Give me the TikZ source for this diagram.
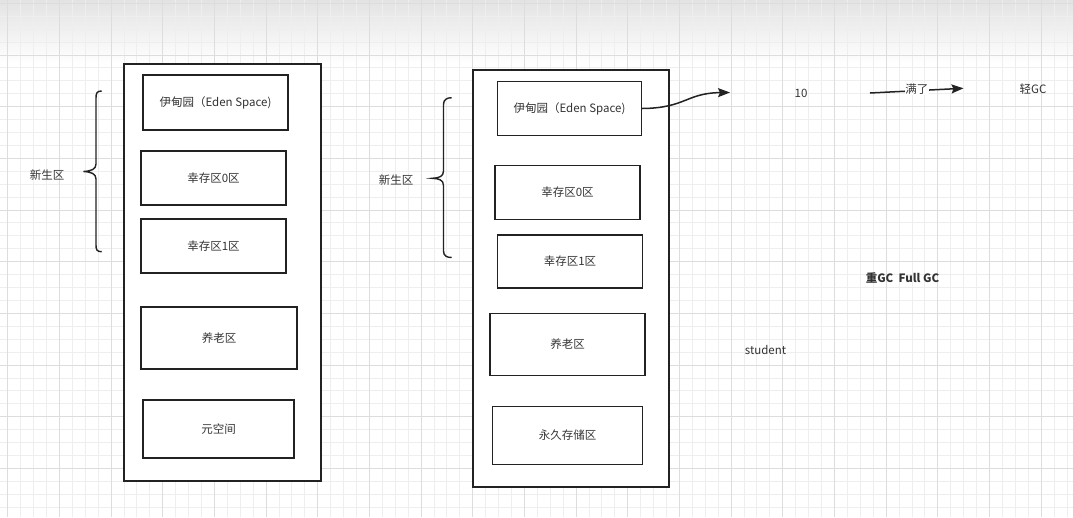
\documentclass[tikz,border=0pt]{standalone}
\usepackage{fontspec}
\setmainfont{Noto Sans CJK SC}
\usetikzlibrary{arrows.meta}
\definecolor{ink}{HTML}{222222}
\definecolor{txt}{HTML}{333333}
\definecolor{gminor}{HTML}{EEEEEE}
\definecolor{gmajor}{HTML}{DDDDDD}
\begin{document}
\begin{tikzpicture}[x=1pt,y=-1pt,
  outerbox/.style={draw=ink,line width=1.4pt,fill=white,inner sep=0pt},
  membox/.style={draw=ink,line width=1.4pt,fill=white,inner sep=0pt,text=txt,font=\fontsize{11.5}{14}\selectfont},
  lbl/.style={text=txt,inner sep=1pt,font=\fontsize{11.5}{14}\selectfont},
  bracepath/.style={draw=ink,line width=1.4pt},
  conn/.style={draw=ink,line width=1.5pt,-{Stealth[length=12pt,width=9pt,inset=2pt]}},
]
\useasboundingbox (0,0) rectangle (1073,517);
\fill[white] (0,0) rectangle (1073,517);
\shade[top color=black!11,bottom color=white] (0,0) rectangle (1073,64);
% grid
\foreach \i in {0,...,83} {\draw[gminor,line width=0.8pt] ({7.7+\i*12.917},0) -- ({7.7+\i*12.917},517);}
\foreach \i in {0,...,40} {\draw[gminor,line width=0.8pt] (0,{3.3+\i*12.917}) -- (1073,{3.3+\i*12.917});}
\foreach \i in {0,...,20} {\draw[gmajor,line width=0.8pt] ({7.7+\i*51.67},0) -- ({7.7+\i*51.67},517);}
\foreach \i in {0,...,10} {\draw[gmajor,line width=0.8pt] (0,{3.3+\i*51.67}) -- (1073,{3.3+\i*51.67});}

% left column
\node[outerbox,minimum width=197,minimum height=417] (outerL) at (222.5,272.5) {};
\node[membox,minimum width=145,minimum height=55] (edenL) at (215.5,102.5) {伊甸园（Eden Space)};
\node[membox,minimum width=145,minimum height=54] (s0L) at (213.5,178) {幸存区0区};
\node[membox,minimum width=145,minimum height=54] (s1L) at (213.5,246) {幸存区1区};
\node[membox,minimum width=156,minimum height=62] (oldL) at (219,338) {养老区};
\node[membox,minimum width=151,minimum height=58] (metaL) at (218.5,429) {元空间};
\draw[bracepath] (101.7,91) .. controls (97,91) and (96,93) .. (96,98) -- (96,164)
  .. controls (96,169.5) and (91,171) .. (83.5,171.5)
  .. controls (91,172) and (96,173.5) .. (96,179) -- (96,245)
  .. controls (96,250) and (97,251.7) .. (101.7,251.7);
\node[lbl] (youngL) at (47,175) {新生区};

% right column
\node[outerbox,minimum width=196,minimum height=417] (outerR) at (571,278.5) {};
\node[membox,minimum width=144,minimum height=54] (edenR) at (569.5,108.5) {伊甸园（Eden Space)};
\node[membox,minimum width=145,minimum height=54] (s0R) at (567.5,192.5) {幸存区0区};
\node[membox,minimum width=145,minimum height=53] (s1R) at (570,261.5) {幸存区1区};
\node[membox,minimum width=155,minimum height=62] (oldR) at (567.5,344.5) {养老区};
\node[membox,minimum width=150,minimum height=58] (permR) at (567.5,435.5) {永久存储区};
\draw[bracepath] (451.7,97.7) .. controls (447,97.7) and (443.5,99.5) .. (443.5,104.5) -- (443.5,171)
  .. controls (443.5,176.5) and (439,178) .. (432.3,178.3)
  .. controls (439,178.6) and (443.5,180) .. (443.5,185.5) -- (443.5,251)
  .. controls (443.5,256) and (447,257.5) .. (451.7,257.5);
\node[lbl] (youngR) at (396,180.5) {新生区};

% right side texts and arrows
\coordinate (edenTip) at (730,92.5);
\draw[conn] (edenR.east) .. controls (686,108) and (686,93) .. (edenTip);
\node[lbl] (ten) at (801,93.5) {10};
\coordinate (fullA) at (870,93);
\coordinate (fullB) at (963.5,88.3);
\draw[conn] (fullA) -- node[lbl,fill=white,inner sep=0.5pt,pos=0.5,yshift=1.5pt] (full) {满了} (fullB);
\node[lbl] (minor) at (1033,89.5) {轻GC};
\node[lbl,font=\fontsize{11.5}{14}\selectfont\bfseries] (major) at (902.5,278) {重GC\ \ Full GC};
\node[lbl] (student) at (765.5,350) {student};
\end{tikzpicture}
\end{document}
